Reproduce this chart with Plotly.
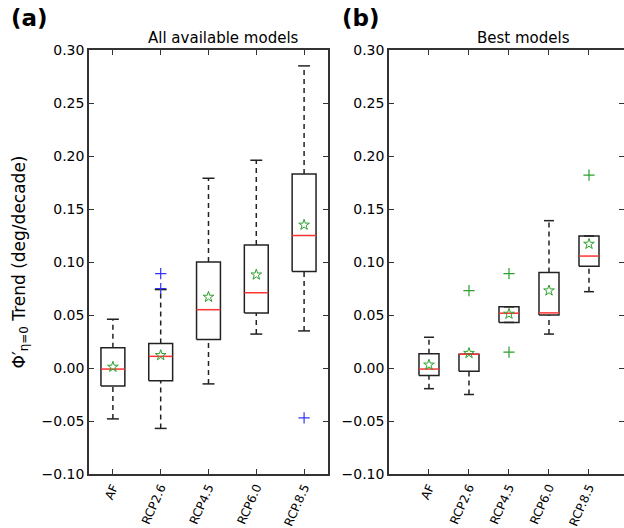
import plotly.graph_objects as go

categories = ["AF", "RCP2.6", "RCP4.5", "RCP6.0", "RCP.8.5"]

# Panel (a): All available models
a_low = [-0.048, -0.057, -0.015, 0.032, 0.035]
a_q1 = [-0.017, -0.012, 0.027, 0.052, 0.091]
a_med = [-0.001, 0.011, 0.055, 0.071, 0.125]
a_q3 = [0.019, 0.023, 0.100, 0.116, 0.183]
a_high = [0.046, 0.074, 0.179, 0.196, 0.285]
a_mean = [0.001, 0.012, 0.067, 0.088, 0.135]
a_out_x = [2, 2, 5]
a_out_y = [0.089, 0.075, -0.047]

# Panel (b): Best models
b_low = [-0.0195, -0.025, 0.043, 0.032, 0.072]
b_q1 = [-0.007, -0.003, 0.043, 0.050, 0.096]
b_med = [-0.001, 0.013, 0.0517, 0.052, 0.1056]
b_q3 = [0.0135, 0.013, 0.0577, 0.090, 0.1245]
b_high = [0.029, 0.013, 0.0577, 0.139, 0.1245]
b_mean = [0.003, 0.014, 0.051, 0.073, 0.117]
b_out_x = [2, 3, 3, 5]
b_out_y = [0.073, 0.089, 0.015, 0.182]

yticks = [-0.10, -0.05, 0.00, 0.05, 0.10, 0.15, 0.20, 0.25, 0.30]

BOXW = 0.5
CAPW = 0.25
LINEC = "#222222"
FONT = "DejaVu Sans"

fig = go.Figure()


def add_panel(xa, ya, low, q1, med, q3, high, mean, ox, oy, ocolor):
    pos = list(range(1, len(categories) + 1))
    bx, by = [], []
    wx, wy = [], []
    cx, cy = [], []
    mx, my = [], []
    for i, p in enumerate(pos):
        h = BOXW / 2
        bx += [p - h, p + h, p + h, p - h, p - h, None]
        by += [q1[i], q1[i], q3[i], q3[i], q1[i], None]
        if high[i] > q3[i]:
            wx += [p, p, None]
            wy += [q3[i], high[i], None]
        if low[i] < q1[i]:
            wx += [p, p, None]
            wy += [low[i], q1[i], None]
        c = CAPW / 2
        cx += [p - c, p + c, None, p - c, p + c, None]
        cy += [high[i], high[i], None, low[i], low[i], None]
        mx += [p - h, p + h, None]
        my += [med[i], med[i], None]
    common = dict(xaxis=xa, yaxis=ya, showlegend=False, hoverinfo="skip")
    fig.add_trace(go.Scatter(x=wx, y=wy, mode="lines",
                             line=dict(color=LINEC, width=1.5, dash="5px,4px"), **common))
    fig.add_trace(go.Scatter(x=cx, y=cy, mode="lines",
                             line=dict(color=LINEC, width=1.5), **common))
    fig.add_trace(go.Scatter(x=bx, y=by, mode="lines",
                             line=dict(color=LINEC, width=1.5), **common))
    fig.add_trace(go.Scatter(x=mx, y=my, mode="lines",
                             line=dict(color="#ff3333", width=1.5), **common))
    fig.add_trace(go.Scatter(x=pos, y=mean, mode="markers",
                             marker=dict(symbol="star-open", size=8, color="#2ca02c",
                                         line=dict(width=1, color="#2ca02c")), **common))
    fig.add_trace(go.Scatter(x=ox, y=oy, mode="markers",
                             marker=dict(symbol="cross-thin-open", size=8, color=ocolor,
                                         line=dict(width=1.2, color=ocolor)), **common))


add_panel("x", "y", a_low, a_q1, a_med, a_q3, a_high, a_mean, a_out_x, a_out_y, "#3333ff")
add_panel("x2", "y2", b_low, b_q1, b_med, b_q3, b_high, b_mean, b_out_x, b_out_y, "#2ca02c")

axis_common = dict(showline=True, linecolor="#333333", linewidth=1.5, mirror="allticks",
                   ticks="inside", ticklen=5, tickwidth=1, tickcolor="#333333",
                   showgrid=False, zeroline=False, automargin=False,
                   tickfont=dict(family=FONT, size=14, color="black"))

xaxis_common = dict(axis_common, tickvals=list(range(1, len(categories) + 1)),
                    ticktext=categories, tickangle=-66,
                    tickfont=dict(family=FONT, size=12, color="black"))
yaxis_common = dict(axis_common, range=[-0.10, 0.30], tickvals=yticks, tickformat=".2f")

fig.update_layout(
    width=624, height=528,
    margin=dict(l=89, r=0, t=50, b=54),
    plot_bgcolor="white", paper_bgcolor="white",
    font=dict(family=FONT, color="black"),
    xaxis=dict(xaxis_common, domain=[0, 0.4467], range=[0.5, 5.5], anchor="y"),
    yaxis=dict(yaxis_common, domain=[0, 1], anchor="x",
               title=dict(text="Φ′<sub>η=0</sub> Trend (deg/decade)",
                          font=dict(family=FONT, size=17, color="black"), standoff=12)),
    xaxis2=dict(xaxis_common, domain=[0.5607, 1.0], range=[0.0, 5.875], anchor="y2"),
    yaxis2=dict(yaxis_common, domain=[0, 1], anchor="x2"),
    annotations=[
        dict(text="<b>(a)</b>", x=-0.150, y=1.04, xref="paper", yref="paper",
             xanchor="left", yanchor="bottom", showarrow=False,
             font=dict(family=FONT, size=23, color="black")),
        dict(text="<b>(b)</b>", x=0.469, y=1.04, xref="paper", yref="paper",
             xanchor="left", yanchor="bottom", showarrow=False,
             font=dict(family=FONT, size=23, color="black")),
        dict(text="All available models", x=0.252, y=1.0, xref="paper", yref="paper",
             xanchor="center", yanchor="bottom", yshift=1, showarrow=False,
             font=dict(family=FONT, size=15, color="black")),
        dict(text="Best models", x=0.813, y=1.0, xref="paper", yref="paper",
             xanchor="center", yanchor="bottom", yshift=1, showarrow=False,
             font=dict(family=FONT, size=15, color="black")),
    ],
)

fig.write_html("out.html")
